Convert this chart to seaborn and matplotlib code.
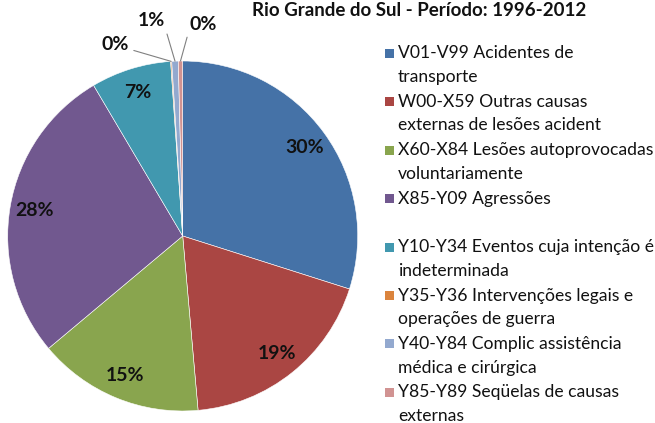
import matplotlib
matplotlib.use("Agg")
import matplotlib.pyplot as plt
from matplotlib.patches import Rectangle
import numpy as np
import seaborn as sns

# ---- data ----
categories = [
    "V01-V99 Acidentes de\ntransporte",
    "W00-X59 Outras causas\nexternas de lesões acident",
    "X60-X84 Lesões autoprovocadas\nvoluntariamente",
    "X85-Y09 Agressões",
    "Y10-Y34 Eventos cuja intenção é\nindeterminada",
    "Y35-Y36 Intervenções legais e\noperações de guerra",
    "Y40-Y84 Complic assistência\nmédica e cirúrgica",
    "Y85-Y89 Seqüelas de causas\nexternas",
]
shares = [29.9, 18.7, 15.3, 27.6, 7.4, 0.1, 0.6, 0.4]
colors = ["#4572A7", "#AA4643", "#89A54E", "#71588F",
          "#4198AF", "#DB843D", "#93A9CF", "#D19392"]
title = "Rio Grande do Sul - Período: 1996-2012"

sns.set_theme(style="white")
plt.rcParams["font.family"] = ["Lato", "DejaVu Sans"]
palette = sns.color_palette(colors)

W, H = 655, 423
fig = plt.figure(figsize=(W / 100, H / 100), dpi=100)
cx, cy, R = 182.7, 236.0, 175.0
ax = fig.add_axes([(cx - R) / W, (H - cy - R) / H, 2 * R / W, 2 * R / H])

wedges, _ = ax.pie(shares, colors=palette, startangle=90, counterclock=False,
                   radius=1.0, wedgeprops=dict(linewidth=0.4, edgecolor="white"))
ax.set_xlim(-1, 1)
ax.set_ylim(-1, 1)
ax.set_aspect("equal")
ax.axis("off")

total = sum(shares)
small_pos = {5: (-0.384, 1.097), 6: (-0.181, 1.229), 7: (0.116, 1.211)}
for i, (w, v) in enumerate(zip(wedges, shares)):
    ang = np.deg2rad((w.theta1 + w.theta2) / 2)
    lbl = f"{round(v / total * 100):.0f}%"
    if i in small_pos:
        tx, ty = small_pos[i]
        ax.annotate(lbl, xy=(np.cos(ang), np.sin(ang)), xytext=(tx, ty),
                    ha="center", va="center", fontsize=14, fontweight="bold",
                    color="#111111",
                    arrowprops=dict(arrowstyle="-", color="#808080", lw=0.8,
                                    shrinkA=1, shrinkB=0,
                                    relpos=(1, 0.2) if i != 7 else (0, 0.2)))
    else:
        r = 0.86
        ax.text(r * np.cos(ang), r * np.sin(ang), lbl, ha="center", va="center",
                fontsize=14, fontweight="bold", color="#111111")

fig.text(419 / W, 1 - 11 / H, title, ha="center", va="center",
         fontsize=13.5, fontweight="bold", color="#111111")

# legend
y0, pitch, lgap = 53.5, 48.4, 23.6
for i, (lab, col) in enumerate(zip(categories, palette)):
    y = y0 + pitch * i
    fig.patches.append(Rectangle((385 / W, 1 - (y + 4.5) / H), 9 / W, 9 / H,
                                 transform=fig.transFigure, facecolor=col,
                                 edgecolor="none"))
    for j, line in enumerate(lab.split("\n")):
        fig.text(398 / W, 1 - (y + j * lgap) / H, line, ha="left", va="center",
                 fontsize=12.6, color="#111111")

fig.savefig("out.png", dpi=100)
